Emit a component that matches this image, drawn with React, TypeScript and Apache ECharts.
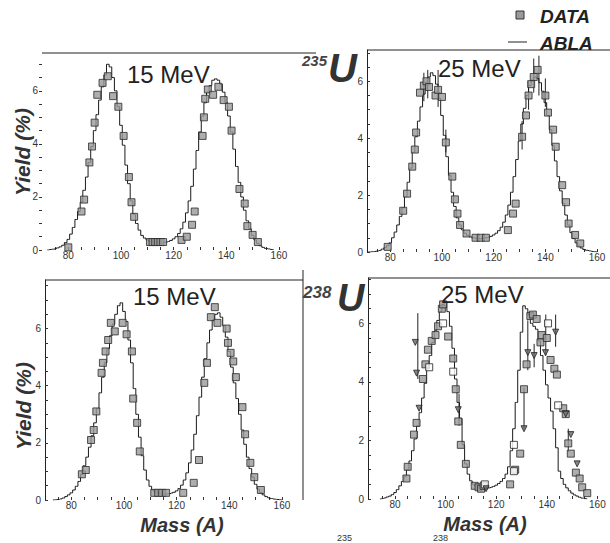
import React, { useEffect, useRef } from "react";
import * as echarts from "echarts";

// ---------- data ----------
const xLabelValues = [80, 100, 120, 140, 160];
const xTickValues = [75, 80, 85, 90, 95, 100, 105, 110, 115, 120, 125, 130, 135, 140, 145, 150, 155, 160];
const yLabelValues = [0, 2, 4, 6];

// ABLA step curves (yield % per mass number), first mass of each list given separately
const ablaStartTL = 72;
const ablaTL = [0.0, 0.02, 0.03, 0.05, 0.08, 0.12, 0.18, 0.28, 0.4, 0.6, 0.85, 1.15, 1.45, 1.8, 2.25, 2.75, 3.3, 3.9, 4.5, 5.1, 5.65, 6.15, 6.6, 7.0, 6.9, 6.5, 6.0, 5.4, 4.7, 3.95, 3.2, 2.5, 1.85, 1.35, 1.0, 0.75, 0.55, 0.45, 0.38, 0.33, 0.3, 0.28, 0.27, 0.27, 0.28, 0.3, 0.32, 0.36, 0.42, 0.5, 0.62, 0.8, 1.05, 1.4, 1.85, 2.4, 3.05, 3.75, 4.45, 5.05, 5.55, 5.95, 6.2, 6.4, 6.45, 6.4, 6.25, 5.95, 5.55, 5.05, 4.45, 3.8, 3.15, 2.55, 2.0, 1.5, 1.1, 0.8, 0.55, 0.38, 0.25, 0.16, 0.1, 0.06, 0.04, 0.02, 0.01];

const ablaStartTR = 71;
const ablaTR = [0, 0, 0.01, 0.02, 0.04, 0.06, 0.1, 0.15, 0.22, 0.32, 0.5, 0.7, 0.95, 1.25, 1.55, 1.95, 2.45, 2.95, 3.5, 4.05, 4.6, 5.1, 5.55, 5.9, 6.15, 6.3, 6.2, 5.9, 5.4, 4.8, 4.1, 3.35, 2.7, 2.1, 1.6, 1.2, 0.95, 0.78, 0.66, 0.58, 0.53, 0.5, 0.48, 0.47, 0.47, 0.48, 0.5, 0.52, 0.55, 0.6, 0.66, 0.75, 0.87, 1.05, 1.3, 1.65, 2.1, 2.65, 3.25, 3.9, 4.5, 5.05, 5.5, 5.85, 6.05, 6.15, 6.1, 5.95, 5.65, 5.25, 4.8, 4.3, 3.75, 3.2, 2.65, 2.15, 1.7, 1.3, 0.95, 0.68, 0.47, 0.32, 0.21, 0.14, 0.09, 0.06, 0.04, 0.02, 0.01, 0];

const ablaStartBL = 73;
const ablaBL = [0, 0.01, 0.02, 0.04, 0.07, 0.12, 0.18, 0.25, 0.35, 0.48, 0.65, 0.9, 1.2, 1.5, 1.85, 2.25, 2.7, 3.2, 3.75, 4.3, 4.8, 5.3, 5.75, 6.15, 6.5, 6.8, 6.9, 6.6, 6.25, 5.6, 4.8, 3.9, 3.0, 2.2, 1.55, 1.05, 0.7, 0.48, 0.35, 0.28, 0.24, 0.22, 0.21, 0.21, 0.22, 0.24, 0.27, 0.32, 0.4, 0.52, 0.7, 0.95, 1.3, 1.75, 2.3, 2.95, 3.6, 4.3, 4.95, 5.5, 5.95, 6.3, 6.5, 6.55, 6.4, 6.1, 5.7, 5.2, 4.65, 4.1, 3.55, 3.0, 2.45, 1.95, 1.5, 1.1, 0.8, 0.55, 0.38, 0.26, 0.18, 0.12, 0.08, 0.05, 0.03, 0.02, 0.01, 0];

const ablaStartBR = 74;
const ablaBR = [0, 0.02, 0.04, 0.07, 0.1, 0.15, 0.22, 0.32, 0.45, 0.6, 0.78, 1.0, 1.3, 1.65, 2.05, 2.5, 2.95, 3.45, 3.95, 4.45, 4.9, 5.35, 5.75, 6.1, 6.4, 6.65, 6.75, 6.4, 5.9, 5.15, 4.1, 3.3, 2.75, 1.85, 1.2, 0.85, 0.62, 0.5, 0.44, 0.4, 0.38, 0.37, 0.37, 0.38, 0.4, 0.43, 0.47, 0.53, 0.6, 0.7, 0.85, 1.1, 1.65, 2.4, 3.3, 4.4, 5.7, 6.6, 6.5, 6.3, 6.0, 5.9, 5.8, 5.4, 4.9, 4.4, 3.9, 3.45, 3.0, 2.4, 1.75, 0.95, 0.7, 0.5, 0.38, 0.28, 0.2, 0.14, 0.1, 0.06, 0.03, 0.01, 0];

// measured yields [mass, yield %]
const dataTL = [[80, 0.1], [85, 1.45], [86, 1.9], [88, 3.3], [89, 3.9], [90, 4.8], [91, 5.85], [93, 6.3], [95, 6.55], [97, 5.8], [99, 5.4], [101, 4.3], [103, 2.75], [104, 1.8], [105, 1.25], [111, 0.3], [112, 0.3], [113, 0.3], [114, 0.3], [115, 0.3], [116, 0.3], [123, 0.38], [125, 0.5], [127, 0.95], [128, 1.45], [131, 4.3], [131.5, 5.0], [132, 5.7], [133, 6.05], [135, 5.85], [137, 6.15], [139, 5.65], [141, 5.4], [142, 4.5], [145, 2.3], [147, 1.75], [148, 0.9], [150, 0.57], [152, 0.3]];

const dataTR = [[79, 0.18], [85, 1.45], [86.5, 2.05], [88.5, 3.0], [89.5, 3.6], [90, 4.2], [91.5, 5.6], [93, 5.85], [94, 6.0], [95, 5.8], [97.5, 5.5], [98.5, 5.7], [100, 5.45], [101.5, 3.85], [104, 2.65], [105, 1.85], [106, 1.35], [107, 0.95], [109.5, 0.65], [113, 0.5], [115, 0.5], [117, 0.5], [125.5, 0.77], [127.5, 1.35], [128.5, 1.7], [131, 4.05], [132.5, 4.8], [133.5, 5.5], [134.5, 5.9], [135.5, 6.15], [137, 6.4], [140, 5.5], [141, 4.9], [143, 4.3], [144, 3.7], [146.5, 2.35], [148, 1.75], [149, 1.0], [151.5, 0.6], [153.5, 0.3]];
const errTR = [[93, 5.3, 6.3], [94.5, 5.4, 6.4], [98.5, 5.1, 6.4], [101.5, 3.5, 4.3], [131, 3.6, 4.6], [133.5, 5.0, 6.0], [135.5, 5.6, 6.8], [137.5, 5.5, 6.9], [140, 5.1, 6.1]];

const dataBL = [[84, 0.9], [85.5, 1.05], [87.5, 2.1], [88.5, 2.45], [89.5, 3.1], [91.5, 4.45], [92, 4.8], [93, 5.2], [94, 5.6], [95, 6.2], [96.5, 5.9], [99.5, 6.2], [101, 5.8], [103, 5.2], [103.5, 3.55], [105, 2.7], [106, 1.7], [111.5, 0.25], [113, 0.25], [114.5, 0.25], [116, 0.25], [122.5, 0.25], [126.5, 0.6], [128.5, 1.4], [130.5, 4.1], [131.5, 4.8], [133, 6.4], [134.5, 6.75], [135.5, 6.2], [139, 6.0], [139.5, 5.5], [140.5, 5.15], [141.5, 4.85], [142.5, 4.3], [145, 3.25], [146, 2.3], [148, 1.3], [149.5, 0.8], [152, 0.35]];

const dataBR = [[84.5, 0.7], [85, 1.1], [87.5, 2.2], [88.5, 2.6], [91, 4.1], [92, 4.6], [93, 5.1], [94.5, 5.4], [96, 5.6], [97, 5.9], [98.5, 6.5], [99, 6.65], [101, 5.55], [103, 4.8], [104, 3.75], [105, 2.65], [106, 1.85], [108, 1.2], [111.5, 0.45], [113, 0.4], [114, 0.35], [115, 0.45], [125.5, 0.5], [127.5, 1.0], [129.5, 1.55], [131, 3.75], [132, 4.6], [133.5, 6.25], [134.5, 6.3], [136, 6.15], [137.5, 5.35], [138, 5.6], [140, 5.5], [141.5, 4.75], [143, 4.45], [144, 4.25], [146.5, 3.1], [147.5, 2.9], [148.5, 1.9], [149.5, 1.55], [151.5, 0.9], [153, 0.7], [154, 0.4], [156, 0.2]];
const openBR = [[93.5, 4.5], [99, 6.0], [103, 4.35], [115.5, 0.5], [127, 1.85], [127, 0.95], [140.5, 6.0], [144.5, 3.2]];
const triBR = [[88, 5.35], [88.5, 4.3], [89.5, 3.1], [105, 3.05], [116, 0.35], [131, 2.4], [132.5, 5.0], [135, 4.9], [139.5, 5.0], [143.5, 5.7], [147.5, 2.9], [149.5, 2.2], [152, 1.2]];
const errBR = [[89, 4.1, 6.35], [105.3, 2.5, 3.6], [131, 2.4, 3.8], [132.5, 4.4, 6.1], [135, 4.5, 5.3], [139.6, 4.9, 6.3], [143.5, 5.2, 6.3], [148.5, 1.6, 2.4]];

const titles = ["15 MeV", "25 MeV", "15 MeV", "25 MeV"];

// ---------- helpers ----------
const toPairs = (start: number, vals: number[]) => vals.map((v, i) => [start + i, v]);
const FONT = "'Liberation Sans', Arial, sans-serif";

const panels = [
  { left: 42, top: 55, width: 258, height: 195, xmin: 70, xmax: 168, ymax: 7.35, axisLine: false, abla: toPairs(ablaStartTL, ablaTL), data: dataTL },
  { left: 367, top: 50, width: 243, height: 202, xmin: 71, xmax: 165, ymax: 7.1, axisLine: true, abla: toPairs(ablaStartTR, ablaTR), data: dataTR },
  { left: 45, top: 280, width: 258, height: 220, xmin: 70, xmax: 168, ymax: 7.7, axisLine: true, abla: toPairs(ablaStartBL, ablaBL), data: dataBL },
  { left: 368, top: 278, width: 242, height: 221, xmin: 69.3, xmax: 165, ymax: 7.55, axisLine: true, abla: toPairs(ablaStartBR, ablaBR), data: dataBR },
];

const errorSeries = (idx: number, data: number[][]) => ({
  type: "custom", xAxisIndex: idx, yAxisIndex: idx, data, z: 2,
  encode: { x: 0, y: [1, 2] },
  renderItem: (_p: any, api: any) => {
    const a = api.coord([api.value(0), api.value(1)]);
    const b = api.coord([api.value(0), api.value(2)]);
    return { type: "line", shape: { x1: a[0], y1: a[1], x2: b[0], y2: b[1] }, style: { stroke: "#222", lineWidth: 1 } };
  },
});

export default function App() {
  const ref = useRef<HTMLDivElement>(null);
  useEffect(() => {
    if (!ref.current) return;
    const chart = echarts.init(ref.current, null, { renderer: "svg" });
    const grid: any[] = [];
    const xAxis: any[] = [];
    const yAxis: any[] = [];
    const series: any[] = [];
    panels.forEach((p, i) => {
      grid.push({ left: p.left, top: p.top, width: p.width, height: p.height, containLabel: false });
      xAxis.push({
        type: "value", gridIndex: i, min: p.xmin, max: p.xmax,
        axisLine: { show: false },
        splitLine: { show: false },
        axisTick: { show: true, inside: true, length: 3, customValues: xTickValues, lineStyle: { color: "#333", width: 1 } },
        axisLabel: { show: true, customValues: xLabelValues, margin: 0, fontSize: 10, color: "#333", fontFamily: FONT },
      });
      yAxis.push({
        type: "value", gridIndex: i, min: 0, max: p.ymax, interval: 0.5,
        axisLine: { show: p.axisLine, lineStyle: { color: "#222", width: 1 } },
        splitLine: { show: false },
        axisTick: { show: true, inside: p.axisLine, length: 3, lineStyle: { color: "#333" } },
        axisLabel: {
          show: true, margin: 4, fontSize: 10, color: "#333", fontFamily: FONT, showMaxLabel: false,
          formatter: (v: number) => (yLabelValues.includes(v) ? String(v) : ""),
        },
      });
      series.push({
        type: "line", xAxisIndex: i, yAxisIndex: i, step: "middle", data: p.abla,
        showSymbol: false, symbol: "none", lineStyle: { color: "#1a1a1a", width: 1 }, z: 2,
      });
      series.push({
        type: "scatter", xAxisIndex: i, yAxisIndex: i, data: p.data, symbol: "rect", symbolSize: 7,
        itemStyle: { color: "#9a9a9a", borderColor: "#2a2a2a", borderWidth: 1 }, z: 3,
      });
    });
    series.push(errorSeries(1, errTR));
    series.push(errorSeries(3, errBR));
    series.push({
      type: "scatter", xAxisIndex: 3, yAxisIndex: 3, data: openBR, symbol: "rect", symbolSize: 7,
      itemStyle: { color: "#fff", borderColor: "#222", borderWidth: 1 }, z: 4,
    });
    series.push({
      type: "scatter", xAxisIndex: 3, yAxisIndex: 3, data: triBR, symbol: "triangle", symbolRotate: 180, symbolSize: 6,
      itemStyle: { color: "#666", borderColor: "#222", borderWidth: 1 }, z: 4,
    });

    const t = (x: number, y: number, text: string, size: number, extra: any = {}, rotation = 0) => ({
      type: "text", x, y, z: 10, rotation,
      style: { text, fontSize: size, fontFamily: FONT, fill: "#222", align: "left", verticalAlign: "middle", ...extra },
    });
    const ln = (x1: number, y1: number, x2: number, y2: number) => ({
      type: "line", shape: { x1, y1, x2, y2 }, style: { stroke: "#222", lineWidth: 1 }, z: 5,
    });
    const bi = { fontWeight: "bold", fontStyle: "italic" };

    const graphic: any[] = [
      ln(42, 53, 316, 53),
      ln(367, 50, 610, 50),
      ln(45, 280, 303, 280),
      ln(303, 270, 303, 500),
      ln(368, 278, 610, 278),
      // legend
      { type: "rect", shape: { x: 516, y: 11, width: 8, height: 8 }, style: { fill: "#9a9a9a", stroke: "#333", lineWidth: 1 }, z: 10 },
      t(540, 16, "DATA", 19, bi),
      ln(508, 42, 527, 42),
      t(540, 43, "ABLA", 19, bi),
      // nucleus labels
      t(302, 60, "235", 15, { ...bi, fill: "#444" }),
      t(328, 68, "U", 40, { ...bi, fill: "#333" }),
      t(303, 292, "238", 17, { ...bi, fill: "#444" }),
      t(337, 298, "U", 38, { ...bi, fill: "#333" }),
      // energies
      t(127, 74, titles[0], 24),
      t(438, 68, titles[1], 24),
      t(133, 296, titles[2], 24),
      t(441, 294, titles[3], 24),
      // axis titles
      t(22, 152, "Yield (%)", 21, { ...bi, align: "center", fill: "#333" }, Math.PI / 2),
      t(23, 406, "Yield (%)", 21, { ...bi, align: "center", fill: "#333" }, Math.PI / 2),
      t(182, 525, "Mass (A)", 20, { ...bi, align: "center", fill: "#333" }),
      t(485, 524, "Mass (A)", 20, { ...bi, align: "center", fill: "#333" }),
      // caption fragments at the bottom
      t(337, 538, "235", 9, { fill: "#333" }),
      t(433, 538, "238", 9, { fill: "#333" }),
    ];

    chart.setOption({
      animation: false,
      backgroundColor: "#fff",
      grid, xAxis, yAxis, series, graphic,
    });
    return () => chart.dispose();
  }, []);
  return <div ref={ref} style={{ position: "fixed", left: 0, top: 0, width: 610, height: 543 }} />;
}
